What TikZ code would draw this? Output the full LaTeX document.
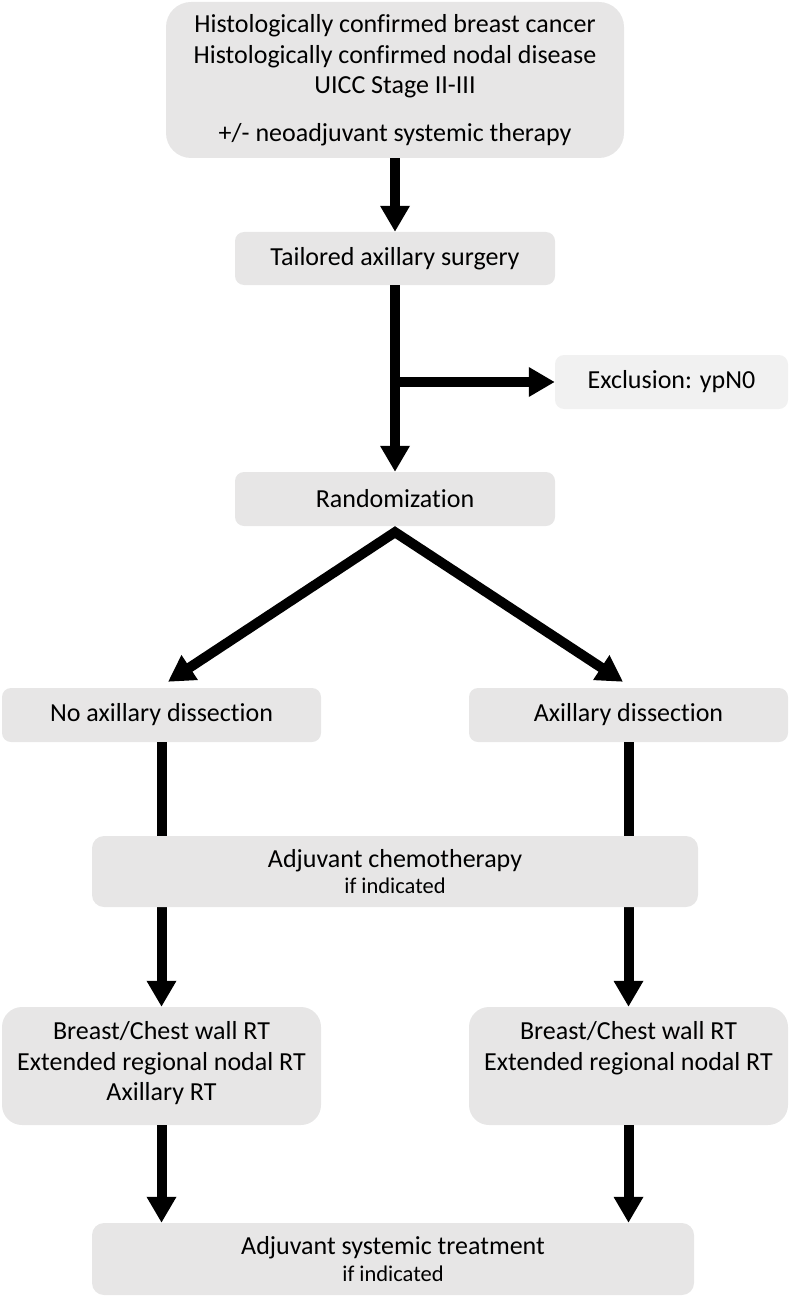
\documentclass[tikz,border=0pt]{standalone}
\usepackage{fontspec}
\setmainfont{Carlito}[Ligatures=NoCommon]
\usetikzlibrary{positioning,calc,arrows.meta}

\definecolor{boxgray}{RGB}{231,230,230}
\definecolor{exclgray}{RGB}{241,241,241}
\newcommand{\ifind}{{\fontsize{22.5}{25}\selectfont if indicated}}

\tikzset{
  box/.style={fill=boxgray, rounded corners=9pt, align=center, inner sep=0pt,
              font=\fontsize{26}{30.5}\selectfont},
  flow/.style={line width=10pt, ->},
  >={Triangle[width=28pt,length=26pt]}
}

\begin{document}
\begin{tikzpicture}[x=1pt,y=-1pt]
      \useasboundingbox (0,0) rectangle (790,1297);

      % setup the boxes
      \node[box, minimum width=458pt, minimum height=156pt, rounded corners=25pt] (incl) at (395,80)
        {Histologically confirmed breast cancer\\Histologically confirmed nodal disease\\UICC Stage II-III\\[17pt]+/- neoadjuvant systemic therapy};
      \node[box, minimum width=320pt, minimum height=53pt] (surg) at (395,258.5) {Tailored axillary surgery};
      \node[box, fill=exclgray, minimum width=233pt, minimum height=54pt] (excl) at (671.5,382) {Exclusion: ypN0};
      \node[box, minimum width=320pt, minimum height=54pt] (rand) at (395,499) {Randomization};
      \node[box, minimum width=319pt, minimum height=54pt] (noax) at (161.5,715) {No axillary dissection};
      \node[box, minimum width=319pt, minimum height=54pt] (axd) at (628.5,715) {Axillary dissection};
      \node[box, minimum width=319pt, minimum height=118pt, rounded corners=20pt] (rtno) at (161.5,1066)
        {Breast/Chest wall RT\\Extended regional nodal RT\\Axillary RT\strut};
      \node[box, minimum width=319pt, minimum height=118pt, rounded corners=20pt] (rtax) at (628.5,1066)
        {Breast/Chest wall RT\\Extended regional nodal RT\\\strut};
      \node[box, minimum width=602pt, minimum height=72pt, rounded corners=12pt] (syst) at (393,1259)
        {Adjuvant systemic treatment\\[-4pt]\ifind};

      % connectors
      \draw [flow] (incl) -- (surg);
      \draw [flow] (surg) -- (rand);
      \coordinate (split) at (surg.south |- excl.west);
      \draw [flow] (split) -- (excl.west);
      \coordinate (apex) at ($(rand.south)+(0,6)$);
      \draw [flow,<->] ($(noax.north)+(6.5,-6)$) -- (apex) -- ($(axd.north)+(-5.5,-6)$);
      \draw [flow] (noax) -- (rtno);
      \draw [flow] (axd) -- (rtax);
      \draw [flow] (rtno.south) -- (rtno.south |- syst.north);
      \draw [flow] (rtax.south) -- (rtax.south |- syst.north);

      % chemo box lies over the two arms
      \node[box, minimum width=606pt, minimum height=71pt, rounded corners=12pt] (chemo) at (395,871.5)
        {Adjuvant chemotherapy\\[-4pt]\ifind};

\end{tikzpicture}
\end{document}
